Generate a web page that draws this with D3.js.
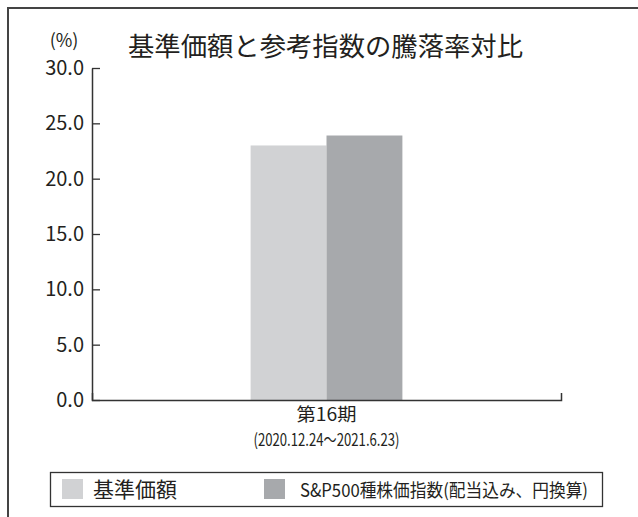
<!DOCTYPE html>
<html>
<head>
<meta charset="utf-8">
<script src="https://cdn.jsdelivr.net/npm/d3@7"></script>
<style>
  body { margin: 0; background: #fff; }
  text { font-family: "Noto Sans CJK JP", "Noto Sans", sans-serif; fill: #231f20; }
</style>
</head>
<body>
<div id="chart"></div>
<script>
// data
var periods = ["第16期"];
var periodDates = ["(2020.12.24～2021.6.23)"];
var seriesNames = ["基準価額", "S&P500種株価指数(配当込み、円換算)"];
var fundValues = [23.0];
var indexValues = [23.9];
var yTicks = [0, 5, 10, 15, 20, 25, 30];
var colors = ["#d1d2d4", "#a7a9ac"];

var svgWidth = 638;
var svgHeight = 517;

var margin = { top: 68, left: 92 };
var width = 469;
var height = 332;

var svg = d3.select("#chart")
    .append("svg")
    .attr("width", svgWidth)
    .attr("height", svgHeight);

// outer frame (open at right and bottom, runs off the picture)
svg.append("path")
    .attr("d", "M8,517V8H638")
    .attr("fill", "none")
    .attr("stroke", "#444")
    .attr("stroke-width", 2);

svg.append("text")
    .attr("x", 128)
    .attr("y", 56)
    .attr("font-size", 26)
    .attr("textLength", 395)
    .attr("lengthAdjust", "spacingAndGlyphs")
    .text("基準価額と参考指数の騰落率対比");

svg.append("text")
    .attr("x", 64)
    .attr("y", 47)
    .attr("text-anchor", "middle")
    .attr("font-size", 18)
    .text("(%)");

var chartGroup = svg.append("g")
    .attr("transform", `translate(${margin.left}, ${margin.top})`);

// scales
var x0 = d3.scaleBand()
    .domain(periods)
    .range([0, width]);

var x1 = d3.scaleBand()
    .domain(d3.range(seriesNames.length))
    .range([0, x0.bandwidth()])
    .paddingInner(0)
    .paddingOuter(2.09);

var y = d3.scaleLinear()
    .domain([0, 30])
    .range([height, 0]);

// bars
var rows = periods.map(function (p, i) {
    return { period: p, values: [fundValues[i], indexValues[i]] };
});

chartGroup.selectAll(".period")
    .data(rows)
    .enter()
    .append("g")
    .attr("transform", d => `translate(${x0(d.period)}, 0)`)
    .selectAll("rect")
    .data(d => d.values)
    .enter()
    .append("rect")
    .attr("x", (d, i) => x1(i))
    .attr("y", d => y(d))
    .attr("width", x1.bandwidth())
    .attr("height", d => height - y(d))
    .attr("fill", (d, i) => colors[i]);

// y axis, ticks pointing inward
var leftAxis = d3.axisLeft(y)
    .tickValues(yTicks)
    .tickFormat(d3.format(".1f"))
    .tickSizeInner(-8)
    .tickSizeOuter(0)
    .tickPadding(8);

var yAxisG = chartGroup.append("g").call(leftAxis);
yAxisG.select(".domain").attr("stroke", "#333").attr("stroke-width", 1.5);
yAxisG.selectAll(".tick line").attr("stroke", "#333").attr("stroke-width", 1.3);
yAxisG.selectAll(".tick text")
    .attr("font-family", "\"Noto Sans CJK JP\", sans-serif")
    .attr("font-size", 20)
    .attr("fill", "#231f20");

// x axis with small upward end tick
var bottomAxis = d3.axisBottom(x0)
    .tickSizeInner(0)
    .tickSizeOuter(-7)
    .tickFormat("");

var xAxisG = chartGroup.append("g")
    .attr("transform", `translate(0, ${height})`)
    .call(bottomAxis);
xAxisG.select(".domain").attr("stroke", "#333").attr("stroke-width", 1.5);

// two-line category label
xAxisG.selectAll(".tick").each(function (d, i) {
    var t = d3.select(this);
    t.append("text")
        .attr("y", 21)
        .attr("text-anchor", "middle")
        .attr("font-size", 18)
        .attr("fill", "#231f20")
        .attr("font-family", "\"Noto Sans CJK JP\", sans-serif")
        .attr("textLength", 60)
        .attr("lengthAdjust", "spacingAndGlyphs")
        .text(d);
    t.append("text")
        .attr("y", 46)
        .attr("text-anchor", "middle")
        .attr("font-size", 17)
        .attr("fill", "#231f20")
        .attr("font-family", "\"Noto Sans CJK JP\", sans-serif")
        .attr("textLength", 146)
        .attr("lengthAdjust", "spacingAndGlyphs")
        .text(periodDates[i]);
});

// legend
var legend = svg.append("g");
legend.append("rect")
    .attr("x", 50.5)
    .attr("y", 472.5)
    .attr("width", 552)
    .attr("height", 34)
    .attr("fill", "none")
    .attr("stroke", "#333")
    .attr("stroke-width", 1.3);

var legendX = [62, 264];
var legendTextX = [31, 36];
var legendFont = [21, 18];

var items = legend.selectAll(".item")
    .data(seriesNames)
    .enter()
    .append("g")
    .attr("transform", (d, i) => `translate(${legendX[i]}, 479)`);

items.append("rect")
    .attr("width", 21)
    .attr("height", 20)
    .attr("fill", (d, i) => colors[i]);

items.append("text")
    .attr("x", (d, i) => legendTextX[i])
    .attr("y", 18)
    .attr("font-size", (d, i) => legendFont[i])
    .attr("textLength", (d, i) => i === 1 ? 288 : null)
    .attr("lengthAdjust", "spacingAndGlyphs")
    .text(d => d);
</script>
</body>
</html>
